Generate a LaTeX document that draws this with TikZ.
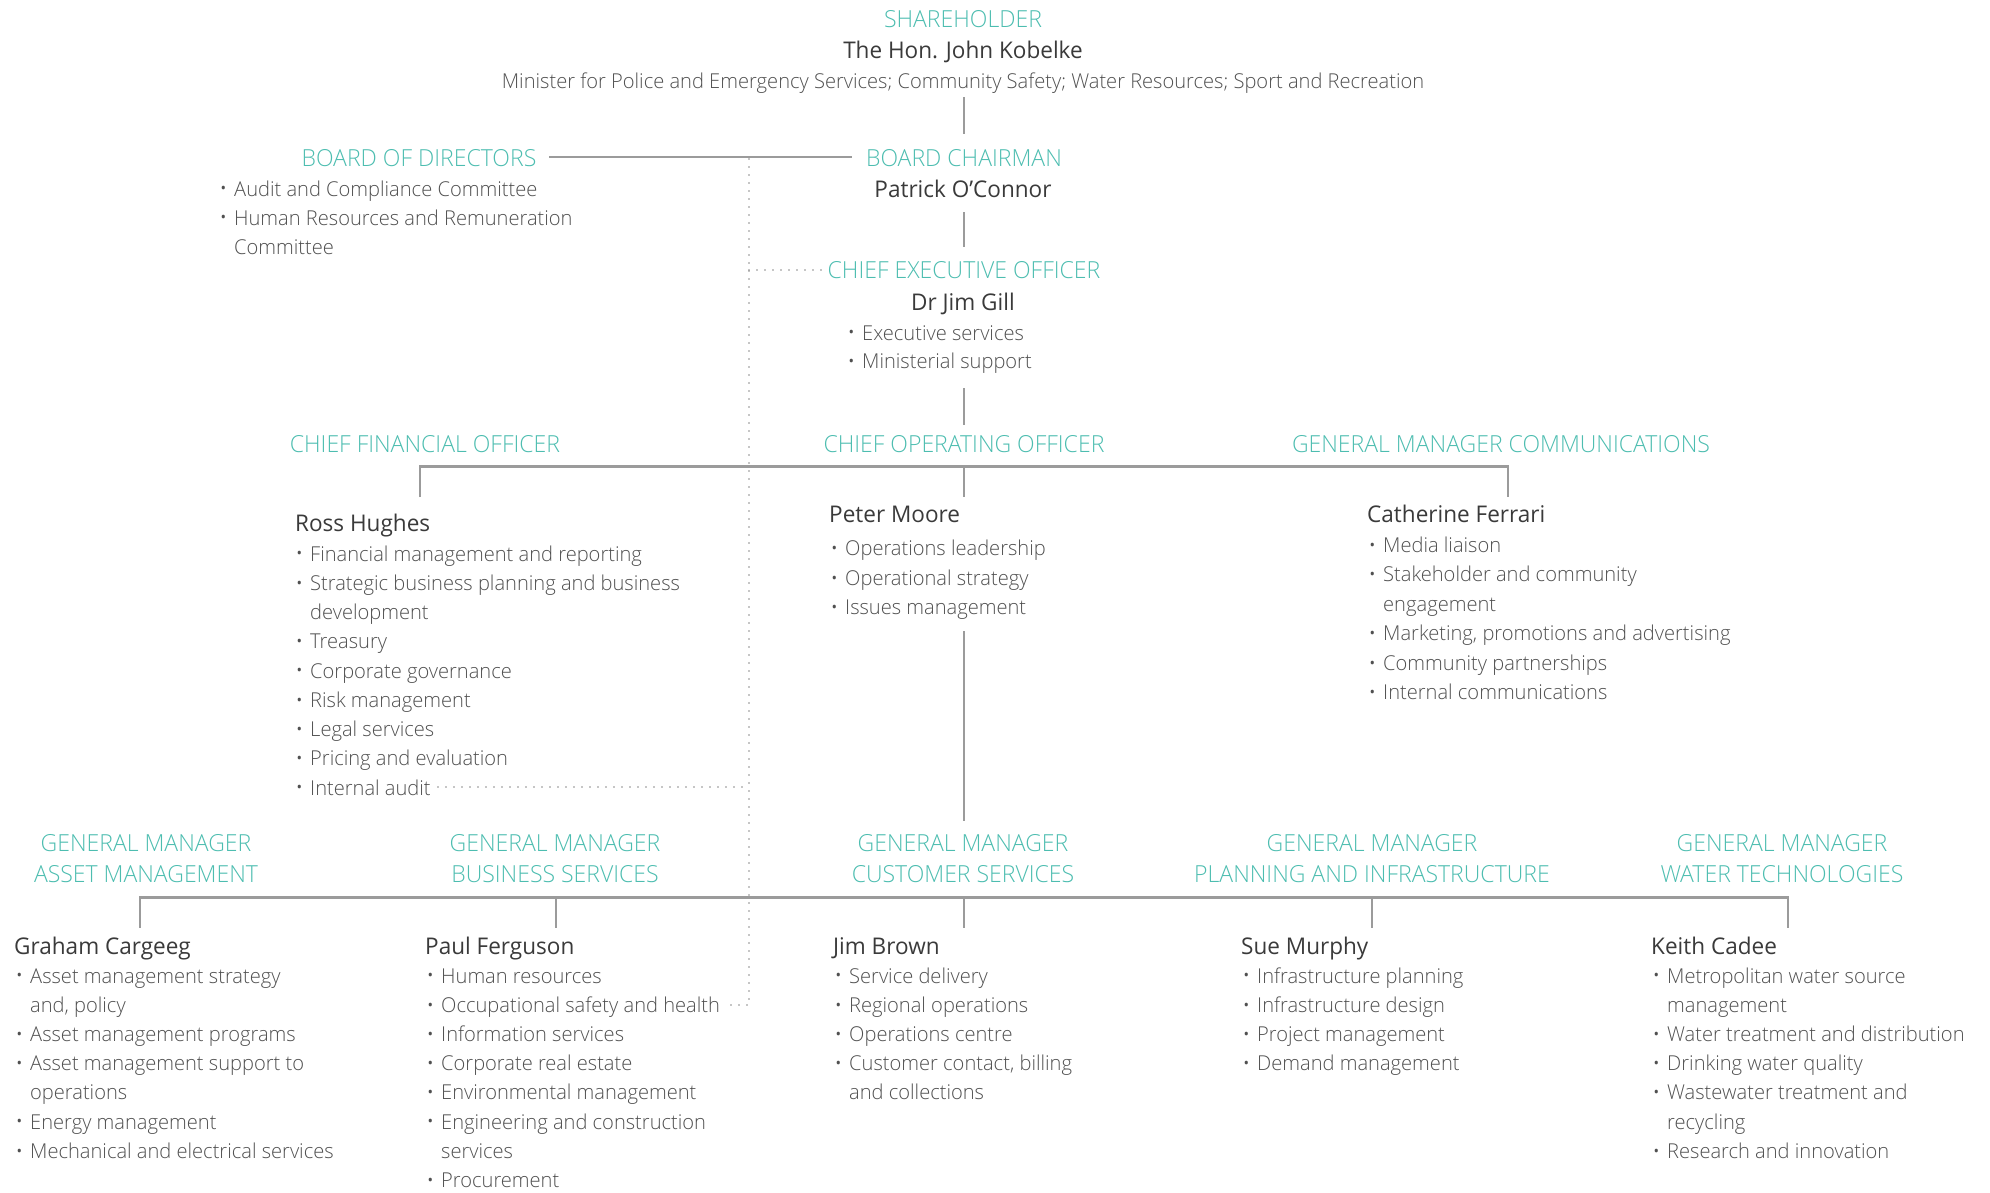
\documentclass[tikz,border=0pt]{standalone}
\usepackage{fontspec}
\setmainfont{Open Sans Light}[FakeStretch=0.98]
\newfontfamily\namefont{Open Sans}[FakeStretch=0.98]
\definecolor{wcteal}{RGB}{77,189,176}
\definecolor{namegray}{RGB}{58,58,58}
\definecolor{bodygray}{RGB}{80,80,80}
\definecolor{linegray}{RGB}{155,155,155}
\definecolor{dotgray}{RGB}{140,140,140}
\newcommand\blt[1]{\makebox[15pt][l]{\hspace{1.5pt}\raisebox{0.1em}{\namefont\fontsize{15}{15}\selectfont •}}#1}
\newcommand\cnt[1]{\hspace*{15pt}#1}
\newcommand\plist[5]{\foreach \itm [count=\i] in {#5} {\node[it] (#1-\i) at (#2,{#3+(\i-1)*#4}) {\itm};}}
\tikzset{
  hd/.style={text=wcteal, font=\fontsize{23.5}{28}\selectfont, anchor=base, inner sep=0pt},
  nm/.style={text=namegray, font=\namefont\fontsize{23}{28}\selectfont, anchor=base west, inner sep=0pt},
  it/.style={text=bodygray, font=\fontsize{20.5}{28}\selectfont, anchor=base west, inner sep=0pt},
  ln/.style={draw=linegray, line width=2.6pt},
  dt/.style={draw=dotgray, line width=1.9pt, dash pattern=on 0pt off 8pt, line cap=round}
}
\begin{document}
\begin{tikzpicture}[x=1pt,y=-1pt]
\useasboundingbox (0,0) rectangle (1990,1192);
% ---- top
\node[hd] (shtitle) at (963,27) {SHAREHOLDER};
\node[nm,anchor=base] (shname) at (963,58) {The Hon. John Kobelke};
\node[it,anchor=base] (shrole) at (963,88) {Minister for Police and Emergency Services; Community Safety; Water Resources; Sport and Recreation};
\coordinate (c1a) at (964,97);
\coordinate (c1b) at (964,134);
\draw[ln] (c1a) -- (c1b);
% ---- board
\node[hd] (bdtitle) at (419,166.7) {BOARD OF DIRECTORS};
\plist{bd}{219}{196}{29}{\blt{Audit and Compliance Committee}, \blt{Human Resources and Remuneration}, \cnt{Committee}}
\node[hd] (bctitle) at (964,166.7) {BOARD CHAIRMAN};
\node[nm,anchor=base] (bcname) at (963,197) {Patrick O’Connor};
\coordinate (bdl) at (549,157);
\coordinate (bdr) at (852,157);
\draw[ln] (bdl) -- (bdr);
\coordinate (c2a) at (964,212);
\coordinate (c2b) at (964,247);
\draw[ln] (c2a) -- (c2b);
% ---- CEO
\node[hd] (ceotitle) at (964,278) {CHIEF EXECUTIVE OFFICER};
\node[nm,anchor=base] (ceoname) at (963,310) {Dr Jim Gill};
\plist{ceo}{847}{340}{28.5}{\blt{Executive services}, \blt{Ministerial support}}
\coordinate (c3a) at (964,388);
\coordinate (c3b) at (964,425);
\draw[ln] (c3a) -- (c3b);
% ---- level 3
\node[hd] (cfotitle) at (425,452) {CHIEF FINANCIAL OFFICER};
\node[hd] (cootitle) at (964,452) {CHIEF OPERATING OFFICER};
\node[hd] (gmctitle) at (1501,452) {GENERAL MANAGER COMMUNICATIONS};
\coordinate (b3l) at (420,466.5);
\coordinate (b3m) at (964,466.5);
\coordinate (b3r) at (1508,466.5);
\coordinate (d3l) at (420,497);
\coordinate (d3m) at (964,497);
\coordinate (d3r) at (1508,497);
\draw[ln] (d3l) -- (b3l) -- (b3r) -- (d3r);
\draw[ln] (b3m) -- (d3m);
\node[nm] (ross) at (295,531.5) {Ross Hughes};
\plist{ross}{295}{561}{29.25}{\blt{Financial management and reporting}, \blt{Strategic business planning and business}, \cnt{development}, \blt{Treasury}, \blt{Corporate governance}, \blt{Risk management}, \blt{Legal services}, \blt{Pricing and evaluation}, \blt{Internal audit}}
\node[nm] (peter) at (829,522.5) {Peter Moore};
\plist{peter}{830}{555.5}{29.6}{\blt{Operations leadership}, \blt{Operational strategy}, \blt{Issues management}}
\node[nm] (cath) at (1367,522.5) {Catherine Ferrari};
\plist{cath}{1368}{552.5}{29.4}{\blt{Media liaison}, \blt{Stakeholder and community}, \cnt{engagement}, \blt{Marketing, promotions and advertising}, \blt{Community partnerships}, \blt{Internal communications}}
\coordinate (c4a) at (964,631);
\coordinate (c4b) at (964,821);
\draw[ln] (c4a) -- (c4b);
% ---- level 4 titles
\node[hd] (gm1a) at (146,851) {GENERAL MANAGER};
\node[hd] (gm1b) at (146,882) {ASSET MANAGEMENT};
\node[hd] (gm2a) at (555,851) {GENERAL MANAGER};
\node[hd] (gm2b) at (555,882) {BUSINESS SERVICES};
\node[hd] (gm3a) at (963,851) {GENERAL MANAGER};
\node[hd] (gm3b) at (963,882) {CUSTOMER SERVICES};
\node[hd] (gm4a) at (1372,851) {GENERAL MANAGER};
\node[hd] (gm4b) at (1372,882) {PLANNING AND INFRASTRUCTURE};
\node[hd] (gm5a) at (1782,851) {GENERAL MANAGER};
\node[hd] (gm5b) at (1782,882) {WATER TECHNOLOGIES};
\coordinate (b5a) at (140,897.7);
\coordinate (b5b) at (556,897.7);
\coordinate (b5c) at (964,897.7);
\coordinate (b5d) at (1372,897.7);
\coordinate (b5e) at (1788,897.7);
\coordinate (d5a) at (140,927.5);
\coordinate (d5b) at (556,927.5);
\coordinate (d5c) at (964,927.5);
\coordinate (d5d) at (1372,927.5);
\coordinate (d5e) at (1788,927.5);
\draw[ln] (d5a) -- (b5a) -- (b5e) -- (d5e);
\draw[ln] (b5b) -- (d5b);
\draw[ln] (b5c) -- (d5c);
\draw[ln] (b5d) -- (d5d);
% ---- level 5 people
\node[nm] (graham) at (14,954) {Graham Cargeeg};
\plist{graham}{15}{983}{29.2}{\blt{Asset management strategy}, \cnt{and, policy}, \blt{Asset management programs}, \blt{Asset management support to}, \cnt{operations}, \blt{Energy management}, \blt{Mechanical and electrical services}}
\node[nm] (paul) at (425,954) {Paul Ferguson};
\plist{paul}{426}{983}{29.2}{\blt{Human resources}, \blt{Occupational safety and health}, \blt{Information services}, \blt{Corporate real estate}, \blt{Environmental management}, \blt{Engineering and construction}, \cnt{services}, \blt{Procurement}}
\node[nm] (jim) at (833,954) {Jim Brown};
\plist{jim}{834}{983}{29.2}{\blt{Service delivery}, \blt{Regional operations}, \blt{Operations centre}, \blt{Customer contact, billing}, \cnt{and collections}}
\node[nm] (sue) at (1241,954) {Sue Murphy};
\plist{sue}{1242}{983}{29.2}{\blt{Infrastructure planning}, \blt{Infrastructure design}, \blt{Project management}, \blt{Demand management}}
\node[nm] (keith) at (1651,954) {Keith Cadee};
\plist{keith}{1652}{983}{29.2}{\blt{Metropolitan water source}, \cnt{management}, \blt{Water treatment and distribution}, \blt{Drinking water quality}, \blt{Wastewater treatment and}, \cnt{recycling}, \blt{Research and innovation}}
% ---- dotted reporting lines
\coordinate (dv1) at (749,159);
\coordinate (dv2) at (749,1005);
\coordinate (dceo) at (826,270);
\coordinate (dceo0) at (749,270);
\coordinate (dia) at (438,787);
\coordinate (dia0) at (749,787);
\coordinate (dos) at (727,1005);
\draw[dt] (dv1) -- (dv2) -- (dos);
\draw[dt] (dceo0) -- (dceo);
\draw[dt] (dia) -- (dia0);
\end{tikzpicture}
\end{document}
